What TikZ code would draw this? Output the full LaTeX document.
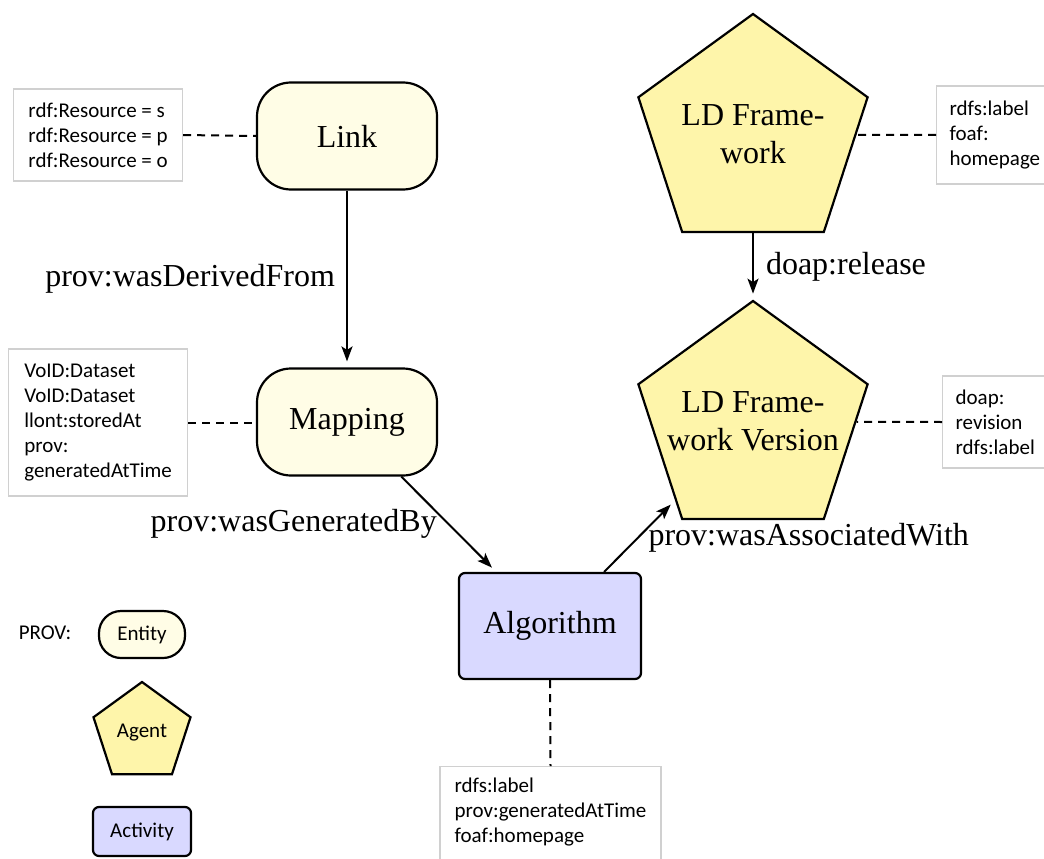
\documentclass[tikz,border=0pt]{standalone}
\usepackage{fontspec}
\setmainfont{Liberation Serif}
\newfontfamily\notefont{Carlito}
\usetikzlibrary{shapes.geometric,arrows.meta}

\definecolor{entityfill}{HTML}{FFFDE6}
\definecolor{agentfill}{HTML}{FEF5AA}
\definecolor{activityfill}{HTML}{D9D9FF}
\definecolor{noteline}{HTML}{D0D0D0}

\begin{document}
\begin{tikzpicture}[x=1pt,y=-1pt,
  bigtext/.style={font=\fontsize{32}{38}\selectfont},
  smalltext/.style={font=\notefont\fontsize{21}{25}\selectfont},
  entity/.style={draw, line width=2.2pt, fill=entityfill, rounded corners=34pt,
    minimum width=180pt, minimum height=107pt, bigtext},
  activity/.style={draw, line width=2.2pt, fill=activityfill, rounded corners=6pt,
    minimum width=182pt, minimum height=106pt, bigtext},
  agent/.style={draw, line width=2.2pt, fill=agentfill, regular polygon,
    regular polygon sides=5, inner sep=0pt, minimum size=241pt},
  agentname/.style={bigtext, align=center, inner sep=0pt},
  entitykey/.style={draw, line width=2.2pt, fill=entityfill, rounded corners=22pt,
    minimum width=86pt, minimum height=47pt, smalltext},
  activitykey/.style={draw, line width=2.2pt, fill=activityfill, rounded corners=6pt,
    minimum width=98pt, minimum height=49pt, smalltext},
  agentkey/.style={draw, line width=2.2pt, fill=agentfill, regular polygon,
    regular polygon sides=5, inner sep=0pt, minimum size=102pt, smalltext},
  note/.style={draw=noteline, line width=1.2pt, fill=white, align=left,
    inner xsep=13pt, smalltext},
  attach/.style={line width=2pt, dash pattern=on 8pt off 6pt},
  flow/.style={line width=2pt, -{Stealth[length=15pt,width=11pt,inset=3.5pt]},
    shorten >=6pt},
  flowlabel/.style={bigtext, inner sep=3pt}
]
\useasboundingbox (0,0) rectangle (1044,859);

% main nodes
\node[entity] (link) at (347,136) {Link};
\node[entity] (mapping) at (347,422) {Mapping};
\node[activity] (algo) at (550,626) {Algorithm};
\node[agent, label={[agentname]center:{LD Frame-\\work}}] (ldf) at (753,134.5) {};
\node[agent, label={[agentname]center:{LD Frame-\\work Version}}] (ldfv) at (753,421.5) {};

% property notes
\node[note, anchor=west, minimum height=92pt, minimum width=169pt] (linknote) at (13,135)
  {rdf:Resource = s\\rdf:Resource = p\\rdf:Resource = o};
\node[note, anchor=west, minimum height=147pt, minimum width=179pt] (mapnote) at (8,422.5)
  {VoID:Dataset\\VoID:Dataset\\llont:storedAt\\prov:\\generatedAtTime};
\node[note, anchor=west, minimum height=98pt] (ldfnote) at (936,135)
  {rdfs:label\\foaf:\\homepage};
\node[note, anchor=west, minimum height=92pt] (ldfvnote) at (942,422)
  {doap:\\revision\\rdfs:label};
\node[note, anchor=north, minimum height=100pt, minimum width=221pt, text depth=13pt]
  (algonote) at (550.5,766)
  {rdfs:label\\prov:generatedAtTime\\foaf:homepage};

% note attachments
\draw[attach] (linknote.east) -- (link.west);
\draw[attach] (mapnote.east) -- (mapnote.east -| mapping.west);
\draw[attach] (ldfnote.west) -- (ldf);
\draw[attach] (ldfvnote.west) -- (ldfv);
\draw[attach] (algo.south) -- (algonote.north);

% relations
\draw[flow] (link) -- node[flowlabel, midway, left=8pt] {prov:wasDerivedFrom} (mapping);
\draw[flow] (ldf) -- node[flowlabel, midway, right=9pt] {doap:release} (ldfv);
\draw[flow] (mapping) -- node[flowlabel, midway, left=8pt] {prov:wasGeneratedBy} (algo);
\draw[flow] (algo.45) -- node[flowlabel, midway, right=5pt, yshift=-2pt] {prov:wasAssociatedWith} (ldfv);

% key
\node[smalltext] (provkey) at (45,633) {PROV:};
\node[entitykey] (entitykey) at (142,634.5) {Entity};
\node[agentkey] (agentkey) at (142,733) {Agent};
\node[activitykey] (activitykey) at (142,831.5) {Activity};
\end{tikzpicture}
\end{document}
